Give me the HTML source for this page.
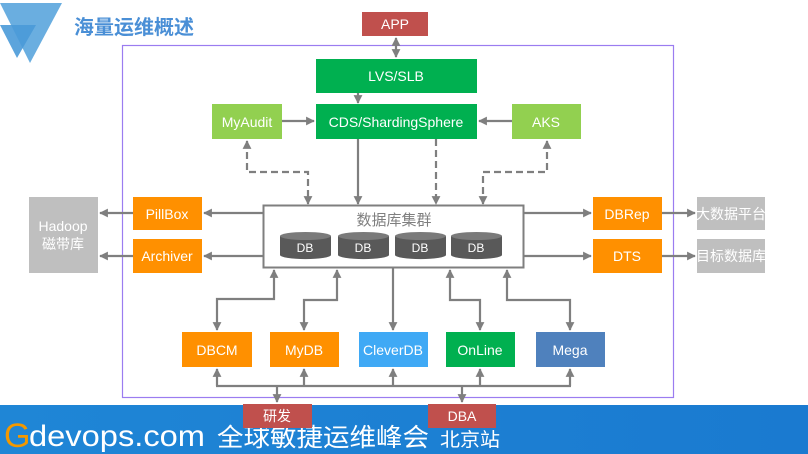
<!DOCTYPE html>
<html><head><meta charset="utf-8"><style>
html,body{margin:0;padding:0;width:808px;height:454px;overflow:hidden;background:#fff}
svg text{font-family:"Liberation Sans","Noto Sans CJK SC",sans-serif}
</style></head><body>
<svg width="808" height="454" viewBox="0 0 808 454" xmlns="http://www.w3.org/2000/svg">
<defs>
<marker id="a" viewBox="0 0 10 10" refX="9" refY="5" markerWidth="4" markerHeight="4" orient="auto-start-reverse"><path d="M0,0L10,5L0,10z" fill="#7f7f7f"/></marker>
<linearGradient id="ft" x1="0" x2="1"><stop offset="0" stop-color="#1f86d6"/><stop offset="1" stop-color="#1a7ad0"/></linearGradient>
</defs>
<polygon points="0,3 62,3 30,63" fill="#6aaee0"/>
<polygon points="0,25 36,25 17,58" fill="#4a9ad8" opacity="0.9"/>
<text x="74" y="34" font-size="20" font-weight="bold" fill="#4a8fd6">海量运维概述</text>
<rect x="122.5" y="45.5" width="551" height="352" fill="none" stroke="#9b7cf0" stroke-width="1.2"/>
<rect x="0" y="405" width="808" height="49" fill="url(#ft)"/>
<text x="4" y="447" font-size="34" fill="#f39800">G</text>
<text x="29" y="446" font-size="30" fill="#fff" textLength="176" lengthAdjust="spacingAndGlyphs">devops.com</text>
<text x="217" y="446" font-size="25" fill="#fff" textLength="212" lengthAdjust="spacingAndGlyphs">全球敏捷运维峰会</text>
<text x="440" y="446" font-size="19" fill="#fff" textLength="60" lengthAdjust="spacingAndGlyphs">北京站</text>
<g stroke="#7f7f7f" stroke-width="2.2" fill="none">
<line x1="396" y1="38" x2="396" y2="57" marker-start="url(#a)" marker-end="url(#a)"/>
<line x1="358" y1="93" x2="358" y2="103" marker-end="url(#a)"/>
<line x1="282" y1="121" x2="314" y2="121" marker-end="url(#a)"/>
<line x1="512" y1="121" x2="479" y2="121" marker-end="url(#a)"/>
<line x1="358" y1="139" x2="358" y2="204" marker-end="url(#a)"/>
<g stroke-dasharray="7,4">
<polyline points="247,141 247,172 308,172 308,204" marker-start="url(#a)" marker-end="url(#a)"/>
<line x1="436" y1="139" x2="436" y2="204" marker-end="url(#a)"/>
<polyline points="547,141 547,172 483,172 483,204" marker-start="url(#a)" marker-end="url(#a)"/>
</g>
<line x1="263" y1="213" x2="204" y2="213" marker-end="url(#a)"/>
<line x1="263" y1="256" x2="204" y2="256" marker-end="url(#a)"/>
<line x1="133" y1="213" x2="100" y2="213" marker-end="url(#a)"/>
<line x1="133" y1="256" x2="100" y2="256" marker-end="url(#a)"/>
<line x1="524" y1="213" x2="591" y2="213" marker-end="url(#a)"/>
<line x1="524" y1="256" x2="591" y2="256" marker-end="url(#a)"/>
<line x1="662" y1="213" x2="695" y2="213" marker-end="url(#a)"/>
<line x1="662" y1="256" x2="695" y2="256" marker-end="url(#a)"/>
<polyline points="274,270 274,299 217,299 217,330" marker-start="url(#a)" marker-end="url(#a)"/>
<polyline points="337,270 337,300 304,300 304,330" marker-start="url(#a)" marker-end="url(#a)"/>
<line x1="393" y1="268" x2="393" y2="330" marker-end="url(#a)"/>
<polyline points="450,270 450,300 480,300 480,330" marker-start="url(#a)" marker-end="url(#a)"/>
<polyline points="507,270 507,300 570,300 570,330" marker-start="url(#a)" marker-end="url(#a)"/>
<line x1="217" y1="369" x2="217" y2="386" marker-start="url(#a)"/>
<line x1="304" y1="369" x2="304" y2="386" marker-start="url(#a)"/>
<line x1="393" y1="369" x2="393" y2="386" marker-start="url(#a)"/>
<line x1="480" y1="369" x2="480" y2="386" marker-start="url(#a)"/>
<line x1="570" y1="369" x2="570" y2="386" marker-start="url(#a)"/>
<line x1="216" y1="386" x2="571" y2="386"/>
<line x1="277" y1="386" x2="277" y2="402" marker-end="url(#a)"/>
<line x1="462" y1="386" x2="462" y2="402" marker-end="url(#a)"/>
</g>
<g font-size="14" fill="#fff" text-anchor="middle">
<rect x="362" y="12" width="66" height="24" fill="#c0504d"/><text x="395" y="29">APP</text>
<rect x="316" y="59" width="161" height="34" fill="#00b050"/><text x="396" y="81">LVS/SLB</text>
<rect x="316" y="104" width="161" height="35" fill="#00b050"/><text x="396" y="127">CDS/ShardingSphere</text>
<rect x="212" y="104" width="70" height="35" fill="#92d050"/><text x="247" y="127">MyAudit</text>
<rect x="512" y="104" width="69" height="35" fill="#92d050"/><text x="546" y="127">AKS</text>
<rect x="133" y="197" width="69" height="33" fill="#ff9000"/><text x="167" y="219">PillBox</text>
<rect x="133" y="239" width="69" height="34" fill="#ff9000"/><text x="167" y="261">Archiver</text>
<rect x="29" y="197" width="69" height="76" fill="#bfbfbf"/><text x="63" y="231">Hadoop</text><text x="63" y="249">磁带库</text>
<rect x="593" y="197" width="69" height="33" fill="#ff9000"/><text x="627" y="219">DBRep</text>
<rect x="593" y="239" width="69" height="34" fill="#ff9000"/><text x="627" y="261">DTS</text>
<rect x="697" y="197" width="68" height="33" fill="#bfbfbf"/><text x="731" y="219">大数据平台</text>
<rect x="697" y="239" width="68" height="34" fill="#bfbfbf"/><text x="731" y="261">目标数据库</text>
<rect x="182" y="332" width="70" height="35" fill="#ff9000"/><text x="217" y="355">DBCM</text>
<rect x="270" y="332" width="69" height="35" fill="#ff9000"/><text x="304" y="355">MyDB</text>
<rect x="359" y="332" width="69" height="35" fill="#3fa9f5"/><text x="393" y="355">CleverDB</text>
<rect x="446" y="332" width="69" height="35" fill="#00b050"/><text x="480" y="355">OnLine</text>
<rect x="536" y="332" width="69" height="35" fill="#4f81bd"/><text x="570" y="355">Mega</text>
<rect x="243" y="404" width="69" height="24" fill="#c0504d"/><text x="277" y="421">研发</text>
<rect x="428" y="404" width="68" height="24" fill="#c0504d"/><text x="462" y="421">DBA</text>
</g>
<rect x="263.5" y="205.5" width="260" height="62" fill="#fff" stroke="#7f7f7f" stroke-width="2"/>
<text x="394" y="225" font-size="15" fill="#7f7f7f" text-anchor="middle">数据库集群</text>
<g font-size="12" fill="#fff" text-anchor="middle">
<g id="c"><path d="M280,236 v19 a25,4 0 0 0 51,0 v-19" fill="#595959"/><ellipse cx="305.5" cy="236" rx="25.5" ry="4" fill="#7a7a7a"/></g>
<use href="#c" x="58"/><use href="#c" x="115"/><use href="#c" x="171"/>
<text x="305" y="252">DB</text><text x="363" y="252">DB</text><text x="420" y="252">DB</text><text x="476" y="252">DB</text>
</g>
</svg>
</body></html>
